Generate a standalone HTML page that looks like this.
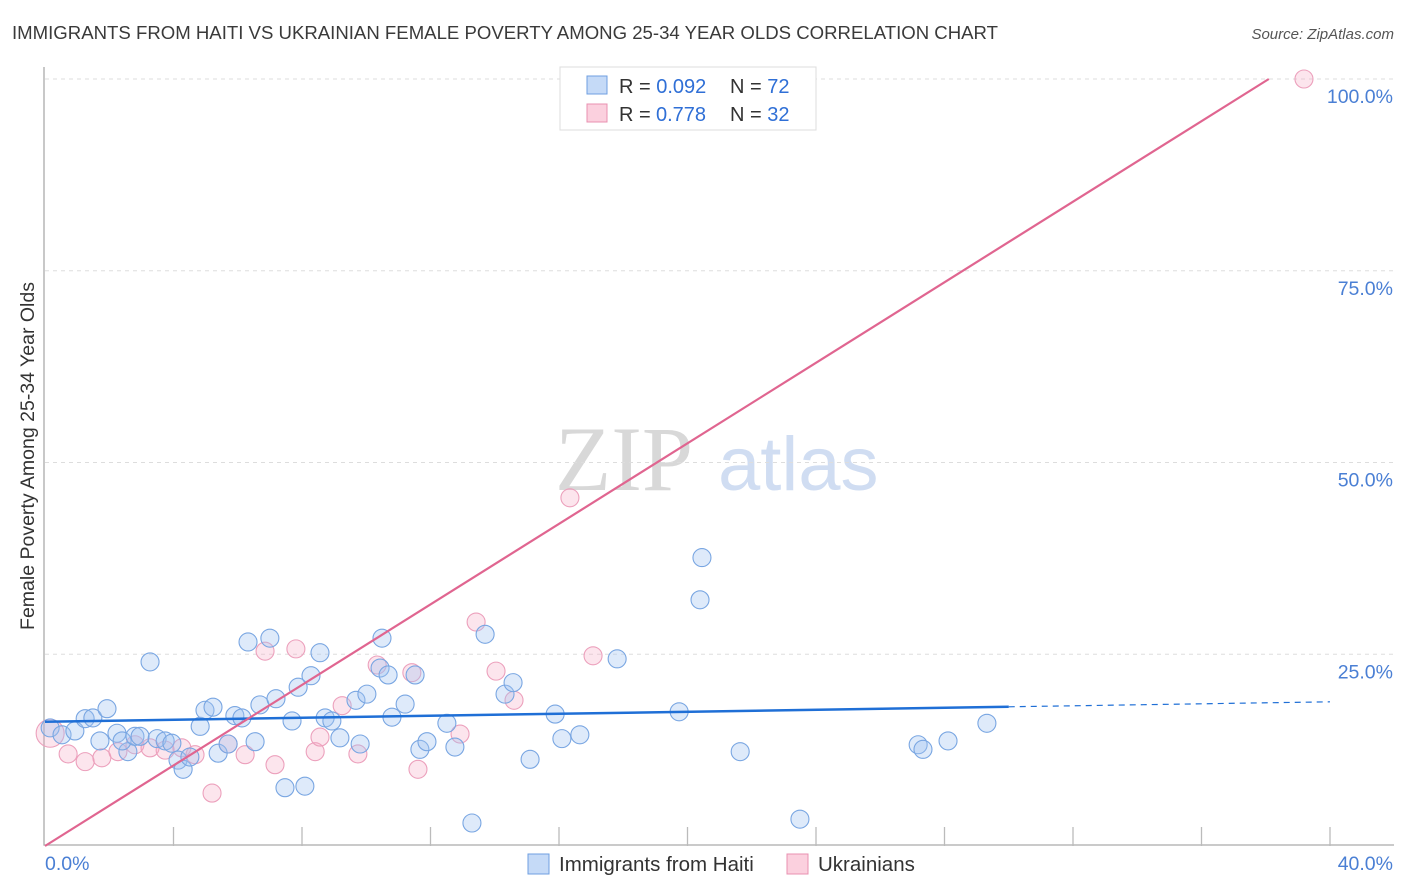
<!DOCTYPE html>
<html><head><meta charset="utf-8"><style>
body{margin:0;background:#fff;font-family:"Liberation Sans",sans-serif}
</style></head><body>
<svg id="chart" width="1406" height="892" xmlns="http://www.w3.org/2000/svg" style="display:block">
<text x="12" y="39" font-size="18.6" fill="#3a3a3a">IMMIGRANTS FROM HAITI VS UKRAINIAN FEMALE POVERTY AMONG 25-34 YEAR OLDS CORRELATION CHART</text>
<text x="1394" y="39" font-size="15" fill="#555" font-style="italic" text-anchor="end">Source: ZipAtlas.com</text>
<text transform="translate(34,456) rotate(-90)" font-size="19.5" fill="#333" text-anchor="middle">Female Poverty Among 25-34 Year Olds</text>
<g>
<text x="555" y="490" font-size="92" font-family="Liberation Serif,serif" fill="#d8d8d8">ZIP</text>
<text x="718" y="490" font-size="76" fill="#d0ddf2">atlas</text>
</g>
<g id="grid"></g><g id="axes"></g><g id="marks"></g>
<g>
<rect x="560" y="67" width="256" height="63" fill="#fff" stroke="#ddd"/>
<rect x="587" y="76" width="20" height="18" fill="#c5daf7" stroke="#6f9fe0"/>
<text x="619" y="93" font-size="20" fill="#333">R = <tspan fill="#2f6fd6">0.092</tspan><tspan x="730">N = </tspan><tspan fill="#2f6fd6">72</tspan></text>
<rect x="587" y="104" width="20" height="18" fill="#fbd0de" stroke="#e890b0"/>
<text x="619" y="121" font-size="20" fill="#333">R = <tspan x="656" fill="#2f6fd6">0.778</tspan><tspan x="730">N = </tspan><tspan fill="#2f6fd6">32</tspan></text>
</g>
<g>
<rect x="528" y="854" width="21" height="20" fill="#c5daf7" stroke="#6f9fe0"/>
<text x="559" y="871" font-size="20.5" fill="#333">Immigrants from Haiti</text>
<rect x="787" y="854" width="21" height="20" fill="#fbd0de" stroke="#e890b0"/>
<text x="818" y="871" font-size="20.5" fill="#333">Ukrainians</text>
</g>
</svg>
<script>
const yTicks=[25,50,75,100];
const yTickLabels=["25.0%","50.0%","75.0%","100.0%"];
const xTickCount=10;
const haitiX=[0.16,0.53,0.93,1.25,1.49,1.71,1.93,2.24,2.58,2.40,2.80,2.96,3.27,3.49,3.74,3.95,4.14,4.30,4.51,4.83,4.98,5.23,5.39,5.70,5.91,6.13,6.32,6.54,6.69,7.00,7.19,7.47,7.69,7.88,8.09,8.28,8.56,8.72,8.93,9.18,9.68,9.81,10.02,10.43,10.49,10.68,10.80,11.21,11.52,11.67,11.89,12.51,12.76,13.29,13.70,14.32,14.57,15.10,15.88,16.09,16.65,17.81,19.74,20.39,20.45,21.64,23.50,27.18,27.33,28.11,29.32];
const haitiY=[15.4,14.5,15.0,16.6,16.7,13.7,17.9,14.7,12.3,13.7,14.3,14.3,24.0,14.0,13.7,13.4,11.2,10.0,11.6,15.6,17.7,18.1,12.1,13.3,17.0,16.7,26.6,13.6,18.4,27.1,19.2,7.6,16.3,20.7,7.8,22.2,25.2,16.7,16.3,14.1,19.0,13.3,19.8,23.2,27.1,22.3,16.8,18.5,22.3,12.6,13.6,16.0,12.9,3.0,27.6,19.8,21.3,11.3,17.2,14.0,14.5,24.4,17.5,32.1,37.6,12.3,3.5,13.2,12.6,13.7,16.0];
const ukrX=[0.72,1.25,1.77,2.27,2.80,3.27,3.74,4.26,4.67,5.20,5.70,6.23,6.85,7.16,7.81,8.41,8.56,9.25,9.74,10.34,11.42,11.61,12.92,13.42,14.04,14.60,16.34,17.06,17.90,39.19];
const ukrY=[12.0,11.0,11.5,12.3,13.2,12.8,12.5,12.8,11.9,6.9,13.3,11.9,25.4,10.6,25.7,12.3,14.2,18.3,12.0,23.6,22.6,10.0,14.6,29.2,22.8,19.0,45.4,24.8,99.9,100];
const haitiTrend=[16.2,18.8];
const ukrTrend=[0,105];
const X0=45,X1=1330,Y0=846,Y100=79;
const sx=v=>X0+(v/40)*(X1-X0);
const sy=v=>Y0-(v/100)*(Y0-Y100);
const NS="http://www.w3.org/2000/svg";
function mk(parent,tag,attrs){const e=document.createElementNS(NS,tag);for(const k in attrs)e.setAttribute(k,attrs[k]);parent.appendChild(e);return e;}
const grid=document.getElementById('grid'),axes=document.getElementById('axes'),marks=document.getElementById('marks');
yTicks.forEach((t,i)=>{
 const l=mk(grid,'line',{x1:X0,x2:1394,y1:sy(t),y2:sy(t),stroke:'#ddd','stroke-dasharray':'4,4'});
 
 
 const tx=mk(axes,'text',{x:1393,y:sy(t)+24,'font-size':19.5,fill:'#4a7fd4','text-anchor':'end'});
 tx.textContent=yTickLabels[i];
 
 
});
const ax=mk(axes,'path',{d:`M${X0-1},67V${Y0-1}H1394`,fill:'none',stroke:'#aaa','stroke-width':1.3});


for(let i=1;i<=xTickCount;i++){
 const v=i*40/xTickCount;
 const t=mk(axes,'line',{x1:sx(v),x2:sx(v),y1:Y0-19,y2:Y0,stroke:'#bbb','stroke-width':1.3});
 
 
}
const xl0=mk(axes,'text',{x:45,y:870,'font-size':19.5,fill:'#4a7fd4'});xl0.textContent='0.0%';


const xl1=mk(axes,'text',{x:1393,y:870,'font-size':19.5,fill:'#4a7fd4','text-anchor':'end'});xl1.textContent='40.0%';


const big=mk(marks,'circle',{cx:sx(0.16),cy:sy(14.7),r:14,fill:'rgba(245,170,195,0.3)',stroke:'#eca0bc','stroke-width':1.1});


ukrX.forEach((x,i)=>{
 const c=mk(marks,'circle',{cx:sx(x),cy:sy(ukrY[i]),r:9,fill:'rgba(245,170,195,0.3)',stroke:'#eca0bc','stroke-width':1.1});
 
 
});
haitiX.forEach((x,i)=>{
 const c=mk(marks,'circle',{cx:sx(x),cy:sy(haitiY[i]),r:9,fill:'rgba(160,195,240,0.35)',stroke:'#79a6e2','stroke-width':1.1});
 
 
});
const hy=x=>haitiTrend[0]+(haitiTrend[1]-haitiTrend[0])*x/40;
const hl=mk(marks,'line',{x1:sx(0),y1:sy(hy(0)),x2:sx(30),y2:sy(hy(30)),stroke:'#1f6fd6','stroke-width':2.5});


const hd=mk(marks,'line',{x1:sx(30),y1:sy(hy(30)),x2:sx(40),y2:sy(hy(40)),stroke:'#1f6fd6','stroke-width':1.2,'stroke-dasharray':'6,5'});


const uy=x=>ukrTrend[0]+(ukrTrend[1]-ukrTrend[0])*x/40;
const xEnd=40*(100-ukrTrend[0])/(ukrTrend[1]-ukrTrend[0]);
const ul=mk(marks,'line',{x1:sx(0),y1:sy(uy(0)),x2:sx(xEnd),y2:sy(100),stroke:'#e06590','stroke-width':2.2});


</script>
</body></html>
